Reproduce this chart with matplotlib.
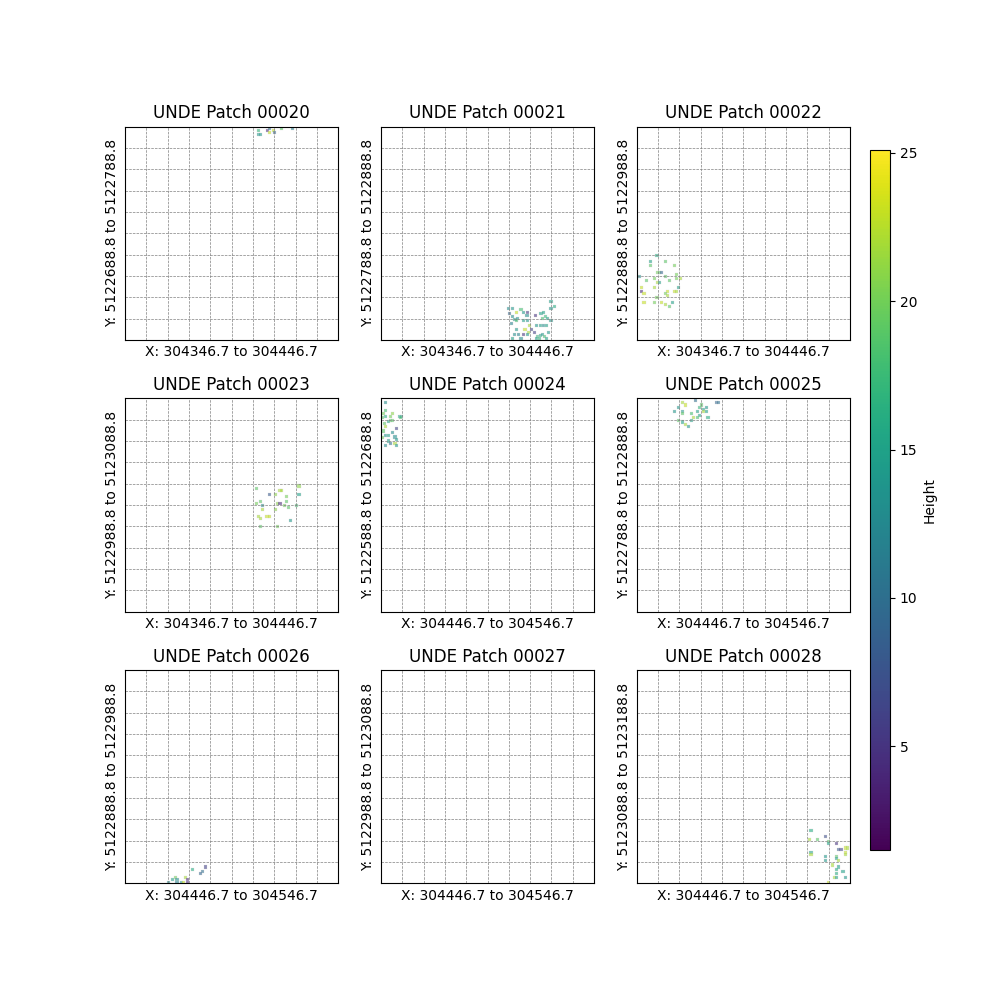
import numpy as np
import matplotlib
matplotlib.use("Agg")
import matplotlib.pyplot as plt

# Patch metadata
patch_ids = ["00020", "00021", "00022", "00023", "00024", "00025", "00026", "00027", "00028"]
x_starts = [304346.7, 304346.7, 304346.7, 304346.7, 304446.7, 304446.7, 304446.7, 304446.7, 304446.7]
y_starts = [5122688.8, 5122788.8, 5122888.8, 5122988.8, 5122588.8, 5122788.8, 5122888.8, 5122988.8, 5123088.8]
patch_size = 100.0
vmin, vmax = 1.5, 25.1

# Points per patch: (x offset m, y offset m, height)
pts_00020 = [(62.6, 98.1, 17), (62.8, 96.1, 14), (63.7, 96.1, 14), (67.0, 98.1, 4), (67.8, 97.2, 23),
             (67.8, 99.2, 10), (69.8, 98.1, 23), (70.0, 97.2, 9), (73.6, 99.2, 19), (78.7, 99.2, 12)]
pts_00021 = [(79.8, 17.8, 15), (81.5, 15.8, 16), (79.8, 14.7, 14), (59.8, 14.7, 13), (61.7, 14.7, 14),
             (60.4, 12.4, 9), (63.7, 12.7, 23), (65.7, 14.2, 18), (66.8, 12.7, 14), (68.9, 12.7, 5),
             (68.5, 11.6, 13), (72.6, 11.6, 5), (75.1, 12.4, 15), (76.4, 12.7, 15), (77.0, 10.8, 17),
             (78.2, 10.0, 15), (79.8, 8.9, 14), (75.6, 10.0, 18), (61.8, 11.1, 13), (62.9, 9.5, 14),
             (64.2, 10.0, 13), (61.3, 7.7, 12), (63.5, 8.9, 18), (66.8, 8.9, 15), (68.9, 8.9, 14),
             (69.8, 6.7, 22), (72.8, 6.6, 14), (74.8, 6.6, 15), (76.1, 6.6, 13), (77.6, 6.6, 15),
             (63.8, 4.9, 14), (67.6, 4.9, 23), (69.2, 3.6, 22), (70.7, 4.7, 6), (72.0, 3.6, 6),
             (62.6, 2.7, 13), (64.6, 2.7, 12), (66.8, 2.7, 5), (68.9, 2.7, 14), (78.7, 3.6, 14),
             (73.6, 1.4, 17), (74.8, 2.2, 15), (75.9, 2.7, 14), (76.7, 1.4, 18), (77.8, 0.6, 15),
             (61.8, 0.5, 15), (65.7, 0.5, 13), (72.8, 0.5, 15), (74.3, 0.5, 17)]
pts_00022 = [(9.5, 39.7, 16), (6.4, 36.8, 15), (13.5, 36.8, 19), (6.4, 34.7, 19), (17.5, 34.7, 20),
             (9.9, 31.7, 20), (10.6, 31.7, 19), (11.6, 31.7, 9), (1.4, 29.7, 13), (4.4, 27.7, 19),
             (8.5, 28.8, 20), (13.5, 29.7, 19), (18.5, 30.8, 20), (18.5, 28.8, 20), (20.5, 28.8, 22),
             (15.5, 27.7, 19), (9.7, 26.8, 22), (10.5, 26.8, 15), (2.3, 24.7, 23), (8.5, 24.7, 22),
             (19.7, 24.7, 15), (2.3, 22.7, 4), (3.4, 21.8, 23), (14.4, 22.7, 23), (13.5, 21.8, 20),
             (17.5, 22.7, 23), (18.5, 22.7, 22), (14.6, 20.7, 22), (9.5, 19.7, 20), (3.4, 17.7, 23),
             (8.5, 17.7, 20), (11.4, 17.7, 23), (16.6, 17.7, 15), (13.5, 16.7, 22), (15.5, 15.7, 19)]
pts_00023 = [(61.6, 57.8, 19), (81.6, 58.9, 21), (72.7, 57.0, 22), (73.6, 57.0, 22), (67.7, 54.9, 8),
             (70.6, 54.9, 21), (75.6, 54.0, 20), (81.6, 54.9, 15), (63.6, 51.7, 19), (75.6, 51.7, 19),
             (61.6, 50.8, 20), (64.5, 49.7, 13), (71.6, 50.8, 21), (72.7, 50.8, 4), (74.7, 49.7, 20),
             (76.6, 48.8, 19), (80.6, 49.7, 18), (64.5, 47.7, 22), (70.6, 47.7, 21), (62.5, 44.8, 22),
             (66.6, 44.8, 23), (67.7, 44.8, 23), (63.6, 43.8, 22), (77.7, 42.8, 14), (63.6, 39.8, 19),
             (71.6, 39.8, 20)]
pts_00024 = [(2.3, 98.0, 13), (2.3, 94.4, 18), (1.3, 92.8, 20), (2.3, 91.7, 16), (4.4, 91.7, 20),
             (5.5, 92.8, 21), (8.6, 91.7, 15), (9.7, 91.7, 14), (9.4, 90.9, 18), (3.4, 89.1, 15),
             (4.7, 89.7, 19), (5.5, 89.7, 19), (1.6, 88.1, 19), (2.3, 86.9, 22), (1.3, 84.7, 19),
             (7.5, 85.8, 6), (5.5, 83.9, 13), (2.3, 82.8, 14), (3.4, 82.8, 15), (6.6, 81.9, 13),
             (7.5, 80.9, 14), (3.4, 80.0, 15), (4.4, 78.9, 10), (6.6, 78.9, 22), (7.5, 78.0, 14),
             (2.3, 78.0, 13), (0.6, 90.9, 19), (0.6, 81.5, 20)]
pts_00025 = [(21.4, 98.0, 22), (22.7, 96.9, 23), (27.5, 99.0, 10), (37.5, 98.0, 9), (38.4, 98.0, 10),
             (19.5, 95.9, 14), (17.5, 93.9, 14), (21.4, 93.8, 14), (21.4, 93.0, 19), (25.5, 93.0, 18),
             (28.4, 93.9, 15), (29.5, 95.9, 17), (30.5, 96.9, 19), (31.4, 94.8, 15), (32.5, 95.9, 14),
             (31.4, 93.9, 22), (32.5, 93.9, 15), (29.5, 91.9, 15), (28.4, 90.9, 18), (26.4, 90.9, 22),
             (25.5, 89.8, 15), (33.4, 90.9, 16), (19.5, 89.8, 19), (21.4, 88.9, 15), (22.7, 87.9, 22),
             (24.4, 86.9, 14)]
pts_00026 = [(37.6, 7.7, 6), (36.5, 5.6, 10), (35.5, 4.7, 9), (31.5, 6.6, 16), (23.5, 2.7, 20),
             (22.4, 1.7, 15), (24.4, 1.7, 13), (28.5, 2.7, 22), (29.4, 1.7, 4), (20.5, 0.6, 13),
             (24.4, 0.6, 12), (26.4, 0.6, 14), (27.4, 0.6, 23), (29.4, 0.6, 4)]
pts_00027 = []
pts_00028 = [(81.7, 24.7, 16), (80.8, 20.7, 22), (84.7, 20.7, 19), (88.7, 21.8, 7), (89.8, 19.6, 19),
             (89.8, 18.6, 15), (93.7, 18.6, 5), (94.8, 15.7, 8), (95.8, 15.7, 6), (97.8, 16.6, 23),
             (98.7, 16.6, 22), (97.8, 14.6, 23), (97.8, 13.6, 22), (81.7, 14.6, 15), (81.7, 13.6, 22),
             (88.7, 12.7, 14), (93.7, 12.7, 19), (93.7, 11.6, 15), (94.8, 10.6, 22), (88.7, 10.6, 14),
             (91.7, 8.6, 22), (94.8, 7.7, 15), (93.7, 6.6, 16), (96.7, 5.6, 15), (93.7, 4.7, 16),
             (92.8, 2.7, 22), (93.7, 2.7, 15), (97.8, 2.7, 14), (89.8, 0.6, 23)]

all_pts = [pts_00020, pts_00021, pts_00022, pts_00023, pts_00024,
           pts_00025, pts_00026, pts_00027, pts_00028]

fig, axes = plt.subplots(3, 3, figsize=(10, 10), dpi=100)
fig.subplots_adjust(right=0.85)
norm = matplotlib.colors.Normalize(vmin=vmin, vmax=vmax)

for ax, pid, x0, y0, pts in zip(axes.ravel(), patch_ids, x_starts, y_starts, all_pts):
    if pts:
        arr = np.array(pts, dtype=float)
        ax.scatter(x0 + arr[:, 0], y0 + arr[:, 1], c=arr[:, 2], cmap="viridis", norm=norm,
                   marker="s", s=5, alpha=0.6, linewidths=0.3, edgecolors="lightgray")
    ax.set_xlim(x0, x0 + patch_size)
    ax.set_ylim(y0, y0 + patch_size)
    ax.set_aspect("equal")
    ax.set_xticks(np.linspace(x0, x0 + patch_size, 11))
    ax.set_yticks(np.linspace(y0, y0 + patch_size, 11))
    ax.tick_params(left=False, bottom=False, labelleft=False, labelbottom=False)
    ax.grid(True, color="gray", linestyle="--", linewidth=0.5)
    ax.set_title(f"UNDE Patch {pid}", fontsize=12)
    ax.set_xlabel(f"X: {x0:.1f} to {x0 + patch_size:.1f}")
    ax.set_ylabel(f"Y: {y0:.1f} to {y0 + patch_size:.1f}")

cax = fig.add_axes([0.87, 0.15, 0.02, 0.7])
sm = matplotlib.cm.ScalarMappable(norm=norm, cmap="viridis")
cb = fig.colorbar(sm, cax=cax)
cb.set_label("Height")
cb.set_ticks([5, 10, 15, 20, 25])

fig.savefig("out.png", dpi=100)
